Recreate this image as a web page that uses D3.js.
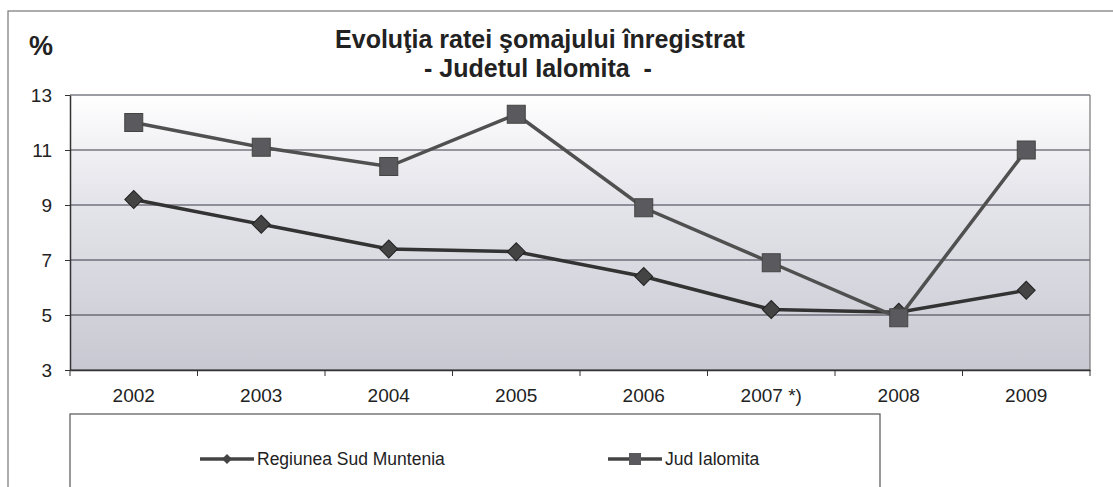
<!DOCTYPE html>
<html lang="ro">
  <head>
    <meta charset="utf-8" />
    <title>Evoluţia ratei şomajului înregistrat</title>
    <script src="https://cdnjs.cloudflare.com/ajax/libs/d3/7.8.5/d3.min.js"></script>
    <style>
      body { margin: 0; background: #fff; }
      svg { display: block; font-family: Arial, "Liberation Sans", sans-serif; }
      .axis text { font-size: 19px; fill: #222; }
      .axis path, .axis line { stroke: #333; }
    </style>
  </head>
  <body>
    <script>
      // data
      const years = ["2002", "2003", "2004", "2005", "2006", "2007 *)", "2008", "2009"];
      const sudMuntenia = [9.2, 8.3, 7.4, 7.3, 6.4, 5.2, 5.1, 5.9];
      const judIalomita = [12.0, 11.1, 10.4, 12.3, 8.9, 6.9, 4.9, 11.0];
      const yTicks = [3, 5, 7, 9, 11, 13];

      const width = 1113;
      const height = 487;
      const marginLeft = 70;
      const marginRight = 23;
      const marginTop = 95;
      const plotBottom = 370;

      const svg = d3.select("body").append("svg")
        .attr("width", width)
        .attr("height", height);

      const defs = svg.append("defs");
      const grad = defs.append("linearGradient")
        .attr("id", "bg").attr("x1", 0).attr("y1", 0).attr("x2", 0).attr("y2", 1);
      grad.append("stop").attr("offset", "0%").attr("stop-color", "#ffffff");
      grad.append("stop").attr("offset", "35%").attr("stop-color", "#e6e6ec");
      grad.append("stop").attr("offset", "100%").attr("stop-color", "#c8c8d2");

      // outer frame
      svg.append("rect")
        .attr("x", 8).attr("y", 11)
        .attr("width", width + 10).attr("height", height)
        .attr("fill", "none").attr("stroke", "#777").attr("stroke-width", 1.2);

      const x = d3.scaleBand().domain(years).range([marginLeft, width - marginRight]);
      const y = d3.scaleLinear().domain([3, 13]).range([plotBottom, marginTop]);
      const cx = (d) => x(d) + x.bandwidth() / 2;

      // plot background
      svg.append("rect")
        .attr("x", marginLeft).attr("y", marginTop)
        .attr("width", x.range()[1] - marginLeft)
        .attr("height", plotBottom - marginTop)
        .attr("fill", "url(#bg)");

      // gridlines
      svg.append("g")
        .selectAll("line")
        .data(yTicks)
        .join("line")
        .attr("x1", marginLeft).attr("x2", x.range()[1])
        .attr("y1", (d) => y(d)).attr("y2", (d) => y(d))
        .attr("stroke", "#3a3a48").attr("stroke-width", 1.1);

      // right border
      svg.append("line")
        .attr("x1", x.range()[1]).attr("x2", x.range()[1])
        .attr("y1", marginTop).attr("y2", plotBottom)
        .attr("stroke", "#777").attr("stroke-width", 1.2);

      // y axis
      svg.append("g")
        .attr("class", "axis")
        .attr("transform", `translate(${marginLeft},0)`)
        .call(d3.axisLeft(y).tickValues(yTicks).tickSize(5).tickSizeOuter(0).tickPadding(13))
        .call((g) => g.select(".domain").attr("stroke-width", 1.5));

      // x axis, ticks on category boundaries
      const xAxis = svg.append("g")
        .attr("class", "axis")
        .attr("transform", `translate(0,${plotBottom})`)
        .call(d3.axisBottom(x).tickSize(0).tickPadding(19))
        .call((g) => g.select(".domain").attr("stroke-width", 1.5));
      xAxis.selectAll(".bound")
        .data(years.map((d) => x(d)).concat([x.range()[1]]))
        .join("line")
        .attr("class", "bound")
        .attr("x1", (d) => d).attr("x2", (d) => d)
        .attr("y1", 0).attr("y2", 6)
        .attr("stroke", "#333");

      const line = d3.line()
        .x((d, i) => cx(years[i]))
        .y((d) => y(d));

      // Regiunea Sud Muntenia
      svg.append("path")
        .attr("d", line(sudMuntenia))
        .attr("fill", "none").attr("stroke", "#333").attr("stroke-width", 3.5);

      // Jud Ialomita
      svg.append("path")
        .attr("d", line(judIalomita))
        .attr("fill", "none").attr("stroke", "#505050").attr("stroke-width", 3.5);

      svg.append("g")
        .selectAll("path")
        .data(sudMuntenia)
        .join("path")
        .attr("transform", (d, i) => `translate(${cx(years[i])},${y(d)}) rotate(45)`)
        .attr("d", d3.symbol().type(d3.symbolSquare).size(160))
        .attr("fill", "#444").attr("stroke", "#222").attr("stroke-width", 1);

      svg.append("g")
        .selectAll("rect")
        .data(judIalomita)
        .join("rect")
        .attr("x", (d, i) => cx(years[i]) - 9)
        .attr("y", (d) => y(d) - 9)
        .attr("width", 18).attr("height", 18)
        .attr("fill", "#5a5a5e").attr("stroke", "#444").attr("stroke-width", 1);

      // title
      svg.append("text")
        .attr("x", 540).attr("y", 48)
        .attr("text-anchor", "middle")
        .attr("font-size", 25).attr("font-weight", "bold").attr("fill", "#222")
        .text("Evoluţia ratei şomajului înregistrat");
      svg.append("text")
        .attr("x", 538).attr("y", 77)
        .attr("text-anchor", "middle")
        .attr("font-size", 25).attr("font-weight", "bold").attr("fill", "#222")
        .attr("xml:space", "preserve")
        .text("- Judetul Ialomita  -");
      svg.append("text")
        .attr("x", 29).attr("y", 55)
        .attr("font-size", 27).attr("font-weight", "bold").attr("fill", "#222")
        .text("%");

      // legend
      const legend = svg.append("g");
      legend.append("rect")
        .attr("x", 70).attr("y", 414)
        .attr("width", 810).attr("height", 100)
        .attr("fill", "#fff").attr("stroke", "#555").attr("stroke-width", 1.2);

      const items = [
        { name: "Regiunea Sud Muntenia", x0: 200, kind: "diamond" },
        { name: "Jud Ialomita", x0: 608, kind: "square" },
      ];
      items.forEach((it) => {
        const g = legend.append("g").attr("transform", `translate(${it.x0},459)`);
        g.append("line").attr("x1", 0).attr("x2", 54).attr("y1", 0).attr("y2", 0)
          .attr("stroke", "#444").attr("stroke-width", 3.5);
        if (it.kind === "diamond") {
          g.append("path")
            .attr("transform", "translate(27,0) rotate(45)")
            .attr("d", d3.symbol().type(d3.symbolSquare).size(50))
            .attr("fill", "#444");
        } else {
          g.append("rect").attr("x", 21).attr("y", -6).attr("width", 12).attr("height", 12)
            .attr("fill", "#5a5a5e");
        }
        g.append("text").attr("x", 57).attr("y", 6)
          .attr("font-size", 17.5).attr("fill", "#222")
          .text(it.name);
      });
    </script>
  </body>
</html>
